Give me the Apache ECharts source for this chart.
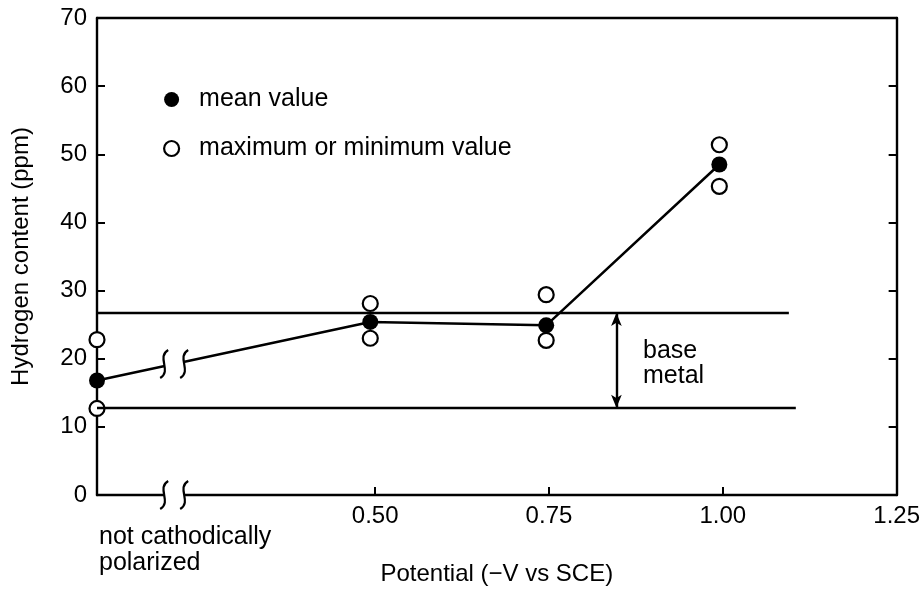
<!DOCTYPE html>
<html>
<head>
<meta charset="utf-8">
<script src="https://cdn.jsdelivr.net/npm/echarts@6/dist/echarts.min.js"></script>
<style>html,body{margin:0;padding:0;background:#fff}#c{width:923px;height:591px}</style>
</head>
<body>
<div id="c"></div>
<script>
// ---- data ----
const potential = [0.1, 0.493, 0.746, 0.995];
const meanValue = [16.8, 25.4, 24.9, 48.5];
const maxValue  = [22.8, 28.1, 29.4, 51.4];
const minValue  = [12.7, 23.0, 22.7, 45.3];
const baseMetalUpper = 26.7;
const baseMetalLower = 12.8;
const baseMetalUpperEnd = 1.095;
const baseMetalLowerEnd = 1.105;
const arrowX = 0.847;
const xTickValues = [0.5, 0.75, 1.0, 1.25];
const xTickLabels = ['0.50', '0.75', '1.00', '1.25'];
const breakX = 0.211;
const xMin = 0.1, xMax = 1.25, yMin = 0, yMax = 70, yInterval = 10;

const FONT = '"Liberation Sans", Arial, Helvetica, sans-serif';
const FS = 24;
const FS2 = 25;
const INK = '#000';

// y of the mean line at the break position (for the break mark on the line)
const breakLineY = meanValue[0] + (meanValue[1] - meanValue[0]) * (breakX - potential[0]) / (potential[1] - potential[0]);
const breakMarks = [[breakX, breakLineY], [breakX, 0]];

const meanData = potential.map((x, i) => [x, meanValue[i]]);
const extremeData = potential.map((x, i) => [x, maxValue[i]]).concat(potential.map((x, i) => [x, minValue[i]]));

const chart = echarts.init(document.getElementById('c'), null, {renderer: 'canvas'});
chart.setOption({
  animation: false,
  backgroundColor: '#fff',
  textStyle: {fontFamily: FONT, color: INK},
  grid: {left: 97, right: 17, top: 18, bottom: 94, containLabel: false},
  legend: {
    orient: 'vertical', left: 158, top: 82, itemWidth: 15, itemHeight: 15, itemGap: 24,
    textStyle: {fontFamily: FONT, fontSize: FS2, color: INK, padding: [0, 0, 0, 15]},
    data: [
      {name: 'mean value', icon: 'circle', itemStyle: {color: INK, borderWidth: 0}},
      {name: 'maximum or minimum value', icon: 'circle', itemStyle: {color: '#fff', borderColor: INK, borderWidth: 2.2}}
    ]
  },
  xAxis: [{
    type: 'value', min: xMin, max: xMax, position: 'bottom',
    name: 'Potential (\u2212V vs SCE)', nameLocation: 'middle', nameGap: 67,
    nameTextStyle: {fontFamily: FONT, fontSize: FS, color: INK},
    axisLine: {show: true, onZero: false, lineStyle: {color: INK, width: 2.4}},
    axisTick: {show: true, inside: true, length: 8, lineStyle: {color: INK, width: 2}, customValues: xTickValues},
    axisLabel: {show: true, margin: 9, fontFamily: FONT, fontSize: FS, color: INK, customValues: xTickValues,
      formatter: v => { const i = xTickValues.findIndex(t => Math.abs(t - v) < 1e-6); return i >= 0 ? xTickLabels[i] : ''; }},
    splitLine: {show: false}
  }, {
    type: 'value', min: xMin, max: xMax, position: 'top',
    axisLine: {show: true, onZero: false, lineStyle: {color: INK, width: 2.4}},
    axisTick: {show: false}, axisLabel: {show: false}, splitLine: {show: false}
  }],
  yAxis: [{
    type: 'value', min: yMin, max: yMax, interval: yInterval, position: 'left',
    name: 'Hydrogen content (ppm)', nameLocation: 'middle', nameGap: 64, nameRotate: 90,
    nameTextStyle: {fontFamily: FONT, fontSize: FS, color: INK},
    axisLine: {show: true, onZero: false, lineStyle: {color: INK, width: 2.4}},
    axisTick: {show: true, inside: true, length: 8, lineStyle: {color: INK, width: 2}},
    axisLabel: {margin: 10, fontFamily: FONT, fontSize: FS, color: INK},
    splitLine: {show: false}
  }, {
    type: 'value', min: yMin, max: yMax, interval: yInterval, position: 'right',
    axisLine: {show: true, onZero: false, lineStyle: {color: INK, width: 2.4}},
    axisTick: {show: true, inside: true, length: 8, lineStyle: {color: INK, width: 2}},
    axisLabel: {show: false}, splitLine: {show: false}
  }],
  series: [
    {
      name: 'base metal', type: 'line', data: [], silent: true, z: 1,
      markLine: {
        silent: true, symbol: 'none', animation: false,
        label: {show: false},
        lineStyle: {color: INK, width: 2.4, type: 'solid'},
        data: [
          [{coord: [xMin, baseMetalUpper]}, {coord: [baseMetalUpperEnd, baseMetalUpper]}],
          [{coord: [xMin, baseMetalLower]}, {coord: [baseMetalLowerEnd, baseMetalLower]}],
          [{coord: [arrowX, baseMetalUpper], symbol: 'arrow', symbolSize: [8, 13]},
           {coord: [arrowX, baseMetalLower], symbol: 'arrow', symbolSize: [8, 13]}]
        ]
      }
    },
    {
      name: 'mean value', type: 'line', data: meanData, z: 3,
      symbol: 'circle', symbolSize: 16, showSymbol: true,
      lineStyle: {color: INK, width: 2.5},
      itemStyle: {color: INK, borderWidth: 0}
    },
    {
      name: 'maximum or minimum value', type: 'scatter', data: extremeData, z: 4,
      symbol: 'circle', symbolSize: 15,
      itemStyle: {color: '#fff', borderColor: INK, borderWidth: 2.2, opacity: 1}
    },
    {
      name: 'breaks', type: 'custom', data: breakMarks, z: 6, clip: false, silent: true,
      encode: {x: 0, y: 1},
      renderItem: function (params, api) {
        const p = api.coord([api.value(0), api.value(1)]);
        const h = 10;
        const s = (cx, cy) => ({
          type: 'bezierCurve',
          shape: {x1: cx + 4, y1: cy - 14, cpx1: cx - 8, cpy1: cy - 7, cpx2: cx + 8, cpy2: cy + 7, x2: cx - 4, y2: cy + 14},
          style: {fill: 'none', stroke: INK, lineWidth: 2.2}
        });
        return {type: 'group', children: [
          {type: 'rect', shape: {x: p[0] - h, y: p[1] - 5, width: 2 * h, height: 10}, style: {fill: '#fff'}},
          s(p[0] - h, p[1]), s(p[0] + h, p[1])
        ]};
      }
    }
  ],
  graphic: [
    {type: 'text', left: 99, top: 524, z: 10,
     style: {text: 'not cathodically\npolarized', fontFamily: FONT, fontSize: FS2, lineHeight: 26, fill: INK}},
    {type: 'text', left: 643, top: 339, z: 10,
     style: {text: 'base\nmetal', fontFamily: FONT, fontSize: FS2, lineHeight: 25, fill: INK}}
  ]
});
</script>
</body>
</html>
